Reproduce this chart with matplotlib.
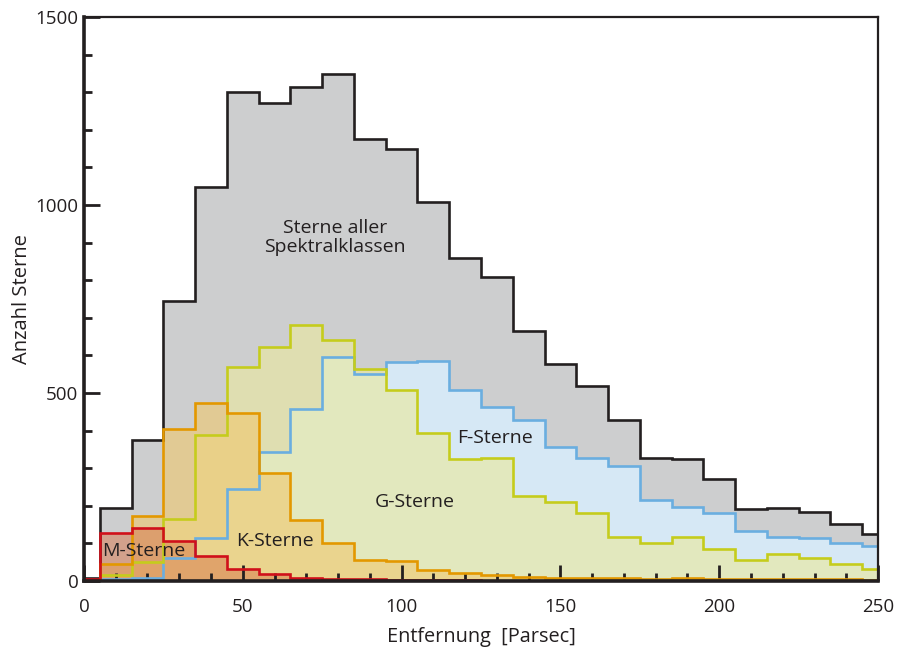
import numpy as np
import matplotlib
matplotlib.use("Agg")
from matplotlib import pyplot as plt

# bin edges in parsec: 0-5, 5-15, ..., 235-245, 245-250
edges = [0] + list(range(5, 250, 10)) + [250]

alle = [8, 193, 376, 745, 1047, 1301, 1270, 1314, 1348, 1176, 1149, 1007, 858,
        808, 665, 578, 518, 429, 326, 324, 271, 191, 195, 184, 151, 126]
f_sterne = [0, 5, 9, 62, 114, 245, 342, 458, 596, 550, 583, 584, 507, 462,
            427, 356, 326, 307, 215, 198, 181, 133, 118, 115, 102, 93]
g_sterne = [0, 15, 51, 166, 387, 569, 623, 680, 640, 565, 509, 393, 325, 326,
            225, 211, 180, 116, 102, 117, 85, 55, 71, 61, 46, 31]
k_sterne = [3, 46, 173, 403, 473, 446, 287, 163, 102, 55, 53, 29, 22, 15,
            11, 9, 7, 8, 6, 7, 6, 5, 6, 5, 4, 3]
m_sterne = [5, 127, 141, 107, 67, 33, 19, 9, 5, 4, 3, 2, 2, 1,
            1, 1, 1, 1, 1, 1, 1, 1, 1, 1, 1, 1]

dark = "#231f20"
plt.rcParams["font.family"] = ["Open Sans", "DejaVu Sans"]

fig = plt.figure(figsize=(8.99, 6.48), dpi=100)
ax = fig.add_axes([0.0934, 0.1034, 0.8833, 0.8704])

# fills (colour, alpha), then outlines on top
series = [
    (alle, "#cdcecf", 1.0, dark),
    (f_sterne, "#d6e8f5", 1.0, "#6aaee0"),
    (g_sterne, "#eae8a1", 0.65, "#c5cc1c"),
    (k_sterne, "#f0c86e", 0.6, "#e39800"),
    (m_sterne, "#d8764a", 0.5, "#d0101a"),
]
for vals, fc, a, lc in series:
    ax.stairs(vals, edges, fill=True, color=fc, alpha=a, linewidth=0, zorder=1)
for vals, fc, a, lc in series:
    ax.stairs(vals, edges, baseline=None, color=lc, linewidth=1.9, zorder=2)

ax.set_xlim(0, 250)
ax.set_ylim(0, 1500)
ax.set_xticks(range(0, 251, 50))
ax.set_xticks(range(0, 251, 10), minor=True)
ax.set_yticks(range(0, 1501, 500))
ax.set_yticks(range(0, 1501, 100), minor=True)
ax.tick_params(which="both", direction="in", color=dark, width=2, labelcolor=dark,
               labelsize=13.5, zorder=5)
ax.tick_params(which="major", length=11.5)
ax.tick_params(which="minor", length=6)
ax.tick_params(axis="x", pad=12)
ax.tick_params(axis="y", pad=4)
for side in ["left", "bottom"]:
    ax.spines[side].set_linewidth(2.6)
for side in ["top", "right"]:
    ax.spines[side].set_linewidth(1.6)
for sp in ax.spines.values():
    sp.set_color(dark)
    sp.set_zorder(6)

ax.set_xlabel("Entfernung  [Parsec]", fontsize=14.3, color=dark, labelpad=8)
ax.set_ylabel("Anzahl Sterne", fontsize=14.5, color=dark, labelpad=2.5)

txt = dict(fontsize=14, color=dark, ha="center", va="center", zorder=4)
ax.text(79, 913, "Sterne aller\nSpektralklassen", linespacing=1.1, **txt)
ax.text(129.5, 379, "F-Sterne", **txt)
ax.text(104, 211, "G-Sterne", **txt)
ax.text(60, 107, "K-Sterne", **txt)
ax.text(18.7, 80, "M-Sterne", **txt)

fig.savefig("out.png", dpi=100)
